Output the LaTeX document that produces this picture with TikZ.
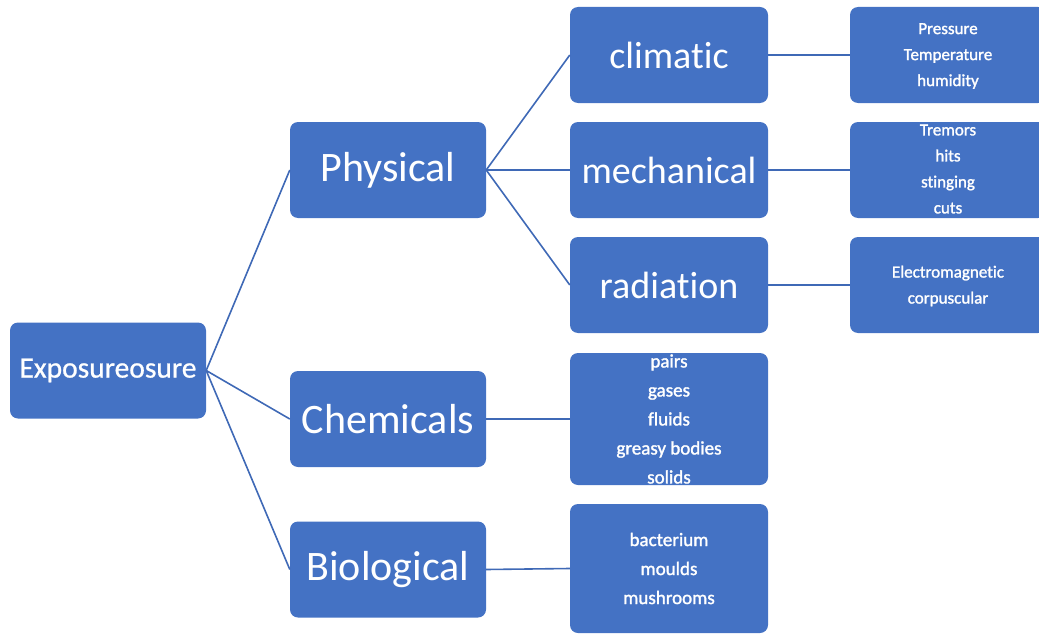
\documentclass[tikz,border=0pt]{standalone}
\usepackage{fontspec}
\setmainfont[Ligatures={NoCommon}]{Carlito}
\newfontfamily\heavysmall[Ligatures={NoCommon},FakeBold=1.5]{Carlito}
\newfontfamily\heavybig[Ligatures={NoCommon},FakeBold=0.8]{Carlito}
\definecolor{boxblue}{HTML}{4472C4}
\definecolor{lineblue}{HTML}{3F69B6}
\begin{document}
\begin{tikzpicture}[x=1pt,y=-1pt,
  box/.style={draw=none,fill=boxblue,rounded corners=8pt,inner sep=0pt,
    minimum width=196pt,minimum height=96pt,text=white},
  boxb/.style={box,minimum width=198pt},
  big/.style={font=\fontsize{42}{50}\selectfont},
  mid/.style={font=\fontsize{38}{46}\selectfont},
  listtxt/.style={text=white,align=center,inner sep=0pt,font=\heavysmall\fontsize{19}{29}\selectfont},
  smalltxt/.style={text=white,align=center,inner sep=0pt,font=\heavysmall\fontsize{17}{26}\selectfont},
  conn/.style={draw=lineblue,line width=1.6pt}]
\useasboundingbox (0,0) rectangle (1039,634);
\begin{scope}
\clip (0,0) rectangle (1039,634);
% level 0
\node[box,font=\heavybig\fontsize{29.5}{35}\selectfont] (expo) at (108,370.5) {Exposureosure};
% level 1
\node[box,big] (phys) at (388,170) {Physical};
\node[box,big] (chem) at (388,419) {Chemicals};
\node[box,big] (bio) at (388,569.5) {Biological};
% level 2
\node[boxb,mid] (clim) at (669,55) {climatic};
\node[boxb,mid] (mech) at (669,170) {mechanical};
\node[boxb,mid] (rad) at (669,285) {radiation};
\node[boxb,minimum height=132pt] (chemlist) at (669,419) {};
\node[listtxt] (chemtxt) at (chemlist.center) {pairs\\gases\\fluids\\greasy bodies\\solids};
\node[boxb,minimum height=129pt] (biolist) at (669,568.5) {};
\node[listtxt] (biotxt) at (biolist.center) {bacterium\\moulds\\mushrooms};
% level 3
\node[box] (climlist) at (948,55) {};
\node[smalltxt] (climtxt) at ([yshift=-1pt]climlist.center) {Pressure\\Temperature\\humidity};
\node[box] (mechlist) at (948,170) {};
\node[smalltxt] (mechtxt) at ([yshift=1pt]mechlist.center) {Tremors\\hits\\stinging\\cuts};
\node[box] (radlist) at (948,285) {};
\node[smalltxt] (radtxt) at ([yshift=-1pt]radlist.center) {Electromagnetic\\corpuscular};
\end{scope}
% connectors
\draw[conn] (expo.east) -- (phys.west);
\draw[conn] (expo.east) -- (chem.west);
\draw[conn] (expo.east) -- (bio.west);
\draw[conn] (phys.east) -- (clim.west);
\draw[conn] (phys.east) -- (mech.west);
\draw[conn] (phys.east) -- (rad.west);
\draw[conn] (chem.east) -- (chemlist.west);
\draw[conn] (bio.east) -- (biolist.west);
\draw[conn] (clim.east) -- (climlist.west);
\draw[conn] (mech.east) -- (mechlist.west);
\draw[conn] (rad.east) -- (radlist.west);
\end{tikzpicture}
\end{document}
